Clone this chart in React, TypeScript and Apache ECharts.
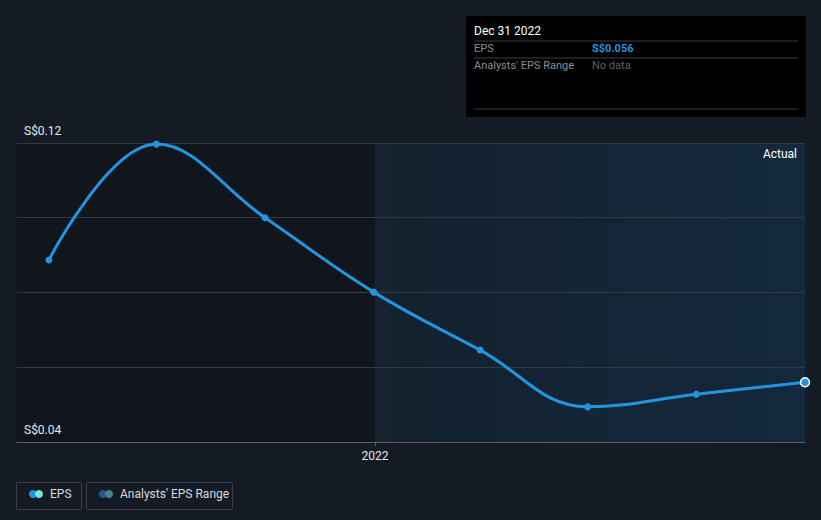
import React, { useEffect, useRef } from "react";
import * as echarts from "echarts";

const dates = ["2021-03-31", "2021-06-30", "2021-09-30", "2021-12-31", "2022-03-31", "2022-06-30", "2022-09-30", "2022-12-31"];
const eps = [0.0887, 0.1197, 0.1, 0.0801, 0.0646, 0.0494, 0.0528, 0.056];
const yTicks = [0.04, 0.12];
const xLabelDates = ["2022-01-01"];
const xMin = "2021-03-04";
const xMax = "2022-12-31";
const regionLabel = "Actual";
const tooltipTitle = "Dec 31 2022";
const tooltipRows = [
  { name: "EPS", value: "S$0.056" },
  { name: "Analysts' EPS Range", value: "No data" },
];
const legendItems = ["EPS", "Analysts' EPS Range"];

const ts = (d: string) => Date.UTC(+d.slice(0, 4), +d.slice(5, 7) - 1, +d.slice(8, 10));

export default function App() {
  const ref = useRef<HTMLDivElement>(null);
  useEffect(() => {
    document.body.style.margin = "0";
    const chart = echarts.init(ref.current!, null, { renderer: "svg" });
    const font = "Roboto, 'Noto Sans', sans-serif";
    const data = dates.map((d, i) => {
      const last = i === dates.length - 1;
      return {
        value: [ts(d), eps[i]],
        itemStyle: last ? { borderColor: "#ffffff", borderWidth: 1.5 } : undefined,
        symbolSize: last ? 9 : 7,
      };
    });
    const labelVals = xLabelDates.map(ts);
    chart.setOption({
      animation: false,
      backgroundColor: "#151b25",
      grid: { left: 17, right: 16, top: 143, bottom: 78, containLabel: false },
      xAxis: {
        type: "value",
        z: 3,
        min: ts(xMin),
        max: ts(xMax),
        axisLine: { show: true, lineStyle: { color: "#5b6068", width: 1 } },
        axisTick: {
          show: true,
          length: 4,
          lineStyle: { color: "#5b6068" },
          customValues: labelVals,
        },
        axisLabel: {
          color: "#e6e8ea",
          fontFamily: font,
          fontSize: 12,
          margin: 8,
          customValues: labelVals,
          formatter: (v: number) => String(new Date(v).getUTCFullYear()),
        },
        splitLine: { show: false },
      },
      yAxis: {
        type: "value",
        z: 3,
        min: 0.04,
        max: 0.12,
        interval: 0.02,
        axisLine: { show: false },
        axisTick: { show: false },
        splitLine: { show: true, lineStyle: { color: "#353b44", width: 1 } },
        axisLabel: {
          inside: true,
          margin: 7,
          color: "#e6e8ea",
          fontFamily: font,
          fontSize: 12,
          verticalAlign: "bottom",
          padding: [0, 0, 6, 0],
          formatter: (v: number) => (yTicks.some((t) => Math.abs(t - v) < 1e-9) ? "S$" + v.toFixed(2) : ""),
        },
      },
      series: [
        {
          type: "line",
          data: [],
          z: 1,
          silent: true,
          markArea: {
            silent: true,
            label: { show: false },
            data: [
              [
                { xAxis: ts(xMin), itemStyle: { color: "#11151c" } },
                { xAxis: labelVals[0] },
              ],
              [
                {
                  xAxis: labelVals[0],
                  itemStyle: {
                    color: new echarts.graphic.LinearGradient(0, 0, 1, 0, [
                      { offset: 0, color: "#17232f" },
                      { offset: 0.08, color: "#13212f" },
                      { offset: 1, color: "#14293e" },
                    ]),
                  },
                },
                { xAxis: ts(xMax) },
              ],
            ],
          },
        },
        {
          type: "line",
          data,
          smooth: 0.4,
          symbol: "circle",
          symbolSize: 7,
          lineStyle: { color: "#2394df", width: 3 },
          itemStyle: { color: "#2394df" },
          z: 5,
        },
      ],
      graphic: [
        { type: "text", right: 24, top: 148, z: 10, style: { text: regionLabel, fill: "#ffffff", font: `12px ${font}` } },
        { type: "rect", left: 466, top: 16, shape: { width: 340, height: 101 }, style: { fill: "#000000" } },
        { type: "text", left: 474, top: 25, style: { text: tooltipTitle, fill: "#ffffff", font: `12px ${font}` } },
        { type: "line", shape: { x1: 474, y1: 41, x2: 798, y2: 41 }, style: { stroke: "#3a3d42", lineWidth: 1 } },
        { type: "text", left: 474, top: 43, style: { text: tooltipRows[0].name, fill: "#8a8e94", font: `11px ${font}` } },
        { type: "text", left: 592, top: 43, style: { text: tooltipRows[0].value, fill: "#2394df", font: `bold 11px ${font}` } },
        { type: "line", shape: { x1: 474, y1: 58, x2: 798, y2: 58 }, style: { stroke: "#3a3d42", lineWidth: 1 } },
        { type: "text", left: 474, top: 60, style: { text: tooltipRows[1].name, fill: "#8a8e94", font: `11px ${font}` } },
        { type: "text", left: 592, top: 60, style: { text: tooltipRows[1].value, fill: "#5d6166", font: `11px ${font}` } },
        { type: "line", shape: { x1: 474, y1: 109, x2: 798, y2: 109 }, style: { stroke: "#3a3d42", lineWidth: 1 } },
        { type: "rect", shape: { x: 16.5, y: 482.5, width: 65, height: 27, r: 1 }, style: { fill: "none", stroke: "#3a3f48", lineWidth: 1 } },
        { type: "circle", shape: { cx: 33, cy: 494, r: 4 }, style: { fill: "#2394df" } },
        { type: "circle", shape: { cx: 39, cy: 494, r: 4 }, style: { fill: "#6ee7dc" } },
        { type: "text", left: 50, top: 488, style: { text: legendItems[0], fill: "#d8dadd", font: `12px ${font}` } },
        { type: "rect", shape: { x: 86.5, y: 482.5, width: 146, height: 27, r: 1 }, style: { fill: "none", stroke: "#3a3f48", lineWidth: 1 } },
        { type: "circle", shape: { cx: 103, cy: 494, r: 4 }, style: { fill: "#1f5a8a" } },
        { type: "circle", shape: { cx: 109, cy: 494, r: 4 }, style: { fill: "#3c8a84" } },
        { type: "text", left: 120, top: 488, style: { text: legendItems[1], fill: "#d8dadd", font: `12px ${font}` } },
      ],
    });
    return () => chart.dispose();
  }, []);
  return <div ref={ref} style={{ width: 821, height: 520, position: "fixed", left: 0, top: 0 }} />;
}
